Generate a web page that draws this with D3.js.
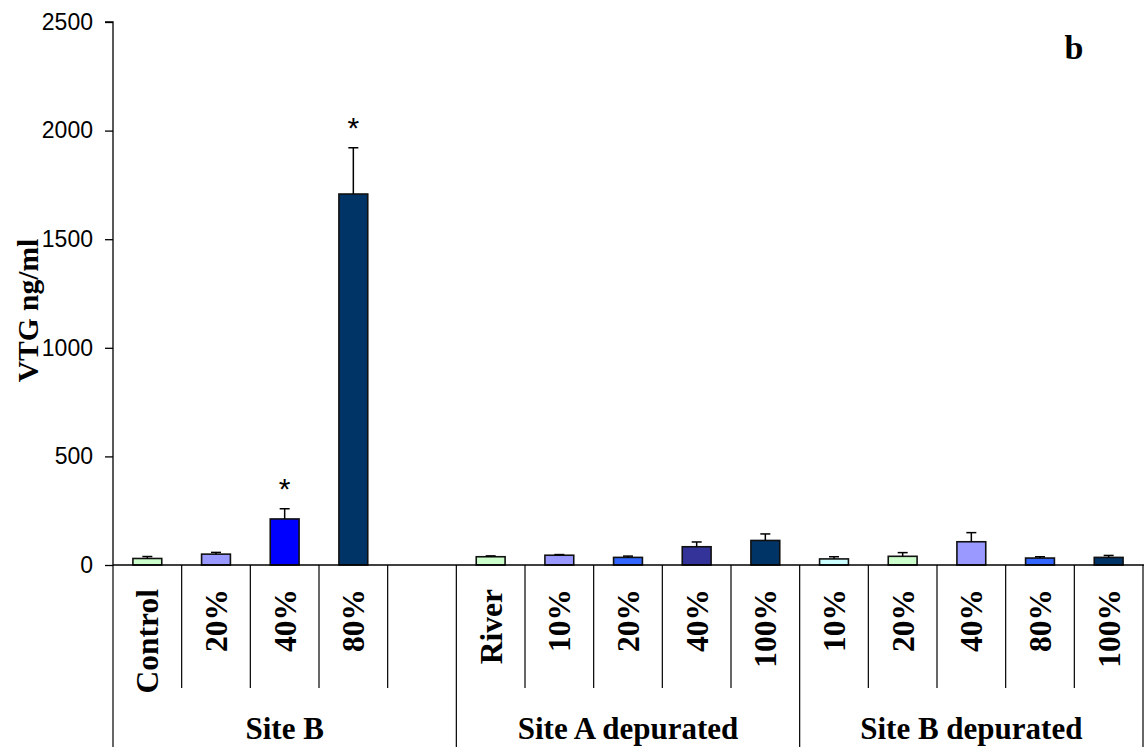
<!DOCTYPE html>
<html>
<head>
<meta charset="utf-8">
<script src="https://cdn.jsdelivr.net/npm/d3@7"></script>
<style>
  html, body { margin: 0; padding: 0; background: #fff; }
  svg { display: block; }
</style>
</head>
<body>
<svg id="chart" width="1144" height="747"></svg>
<script>
// Treatment slots along the x axis (empty slot separates Site B from the depurated groups)
const categories = ["Control", "20%", "40%", "80%", "", "River", "10%", "20%", "40%", "100%", "10%", "20%", "40%", "80%", "100%"];
// Mean VTG (ng/ml) per slot
const values = [30, 50, 212, 1708, null, 38, 45, 35, 84, 113, 28, 40, 107, 32, 35];
// Standard error shown above each bar
const errors = [9, 8, 47, 213, null, 4, 3, 6, 22, 30, 10, 17, 42, 6, 9];
// Bar fill per slot
const fills = ["#CCFFCC", "#9999FF", "#0000FF", "#003366", null, "#CCFFCC", "#9999FF", "#3366FF", "#333399", "#003366", "#CCFFFF", "#CCFFCC", "#9999FF", "#3366FF", "#003366"];
// Significant differences marked with an asterisk
const significant = [false, false, true, true, false, false, false, false, false, false, false, false, false, false, false];
// Grouping of slots
const groups = [
  { name: "Site B", start: 0, end: 5 },
  { name: "Site A depurated", start: 5, end: 10 },
  { name: "Site B depurated", start: 10, end: 15 }
];
const yTicks = [0, 500, 1000, 1500, 2000, 2500];

const svg = d3.select("#chart");
const plotLeft = 113, plotRight = 1143, plotTop = 22, plotBase = 565;
const serif = "Liberation Serif, Times New Roman, serif";

const slotIdx = d3.range(categories.length);
const x = d3.scaleBand().domain(slotIdx).range([plotLeft, plotRight]).padding(0);
const y = d3.scaleLinear().domain([0, 2500]).range([plotBase, plotTop]);
const barW = x.bandwidth() * 0.42;
const cx = i => x(i) + x.bandwidth() / 2;

// Y axis
const yAxis = d3.axisLeft(y).tickValues(yTicks).tickSize(8).tickPadding(12).tickFormat(d3.format("d"));
const ya = svg.append("g").attr("transform", `translate(${plotLeft},0)`).call(yAxis);
ya.select(".domain").attr("stroke", "#000").attr("stroke-width", 1.3).attr("d", `M-8,${plotTop}H0V${plotBase}`);
ya.selectAll(".tick line").attr("stroke", "#000").attr("stroke-width", 1.3);
ya.selectAll(".tick text")
  .attr("font-family", "Liberation Sans, Arial, sans-serif")
  .attr("font-size", 23).attr("fill", "#000");

// Y axis title
svg.append("text")
  .attr("transform", `translate(38,${(plotTop + plotBase) / 2 + 17}) rotate(-90)`)
  .attr("text-anchor", "middle")
  .attr("font-family", serif)
  .attr("font-weight", "bold").attr("font-size", 29.5)
  .text("VTG ng/ml");

// Panel letter
svg.append("text")
  .attr("x", 1074).attr("y", 59).attr("text-anchor", "middle")
  .attr("font-family", serif)
  .attr("font-weight", "bold").attr("font-size", 34)
  .text("b");

// Bars
const bars = slotIdx.filter(i => values[i] != null);
svg.append("g").selectAll("rect").data(bars).join("rect")
  .attr("x", i => cx(i) - barW / 2)
  .attr("y", i => y(values[i]))
  .attr("width", barW)
  .attr("height", i => y(0) - y(values[i]))
  .attr("fill", i => fills[i])
  .attr("stroke", "#111").attr("stroke-width", 1.6);

// Error bars (upper half only)
const eb = svg.append("g").attr("stroke", "#000").attr("stroke-width", 1.5);
eb.selectAll("line.v").data(bars).join("line").attr("class", "v")
  .attr("x1", cx).attr("x2", cx)
  .attr("y1", i => y(values[i])).attr("y2", i => y(values[i] + errors[i]));
eb.selectAll("line.c").data(bars).join("line").attr("class", "c")
  .attr("x1", i => cx(i) - 5).attr("x2", i => cx(i) + 5)
  .attr("y1", i => y(values[i] + errors[i])).attr("y2", i => y(values[i] + errors[i]));

// Significance asterisks
svg.append("g").selectAll("text").data(bars.filter(i => significant[i])).join("text")
  .attr("x", cx)
  .attr("y", i => y(values[i] + errors[i]) - 10)
  .attr("text-anchor", "middle")
  .attr("font-family", "Liberation Sans, Arial, sans-serif")
  .attr("font-size", 30)
  .text("*");

// Baseline across the full category range
svg.append("line")
  .attr("x1", plotLeft).attr("x2", plotRight + 1).attr("y1", plotBase).attr("y2", plotBase)
  .attr("stroke", "#000").attr("stroke-width", 1.3);

// Category dividers: short ones inside groups, long ones between groups
const groupEdges = new Set(groups.flatMap(g => [g.start, g.end]));
const edges = d3.range(categories.length + 1);
svg.append("g").selectAll("line").data(edges).join("line")
  .attr("x1", i => i < categories.length ? x(i) : plotRight)
  .attr("x2", i => i < categories.length ? x(i) : plotRight)
  .attr("y1", plotBase)
  .attr("y2", i => groupEdges.has(i) ? 747 : 688)
  .attr("stroke", "#000").attr("stroke-width", 1.2);

// Category labels, rotated
svg.append("g").selectAll("text").data(slotIdx.filter(i => categories[i] !== "")).join("text")
  .attr("transform", i => `translate(${cx(i) + 11},589) rotate(-90)`)
  .attr("text-anchor", "end")
  .attr("font-family", serif)
  .attr("font-weight", "bold").attr("font-size", 31.5)
  .text(i => categories[i]);

// Group labels
svg.append("g").selectAll("text").data(groups).join("text")
  .attr("x", g => (x(g.start) + (g.end < categories.length ? x(g.end) : plotRight)) / 2)
  .attr("y", 739)
  .attr("text-anchor", "middle")
  .attr("font-family", serif)
  .attr("font-weight", "bold").attr("font-size", 31)
  .text(g => g.name);
</script>
</body>
</html>
